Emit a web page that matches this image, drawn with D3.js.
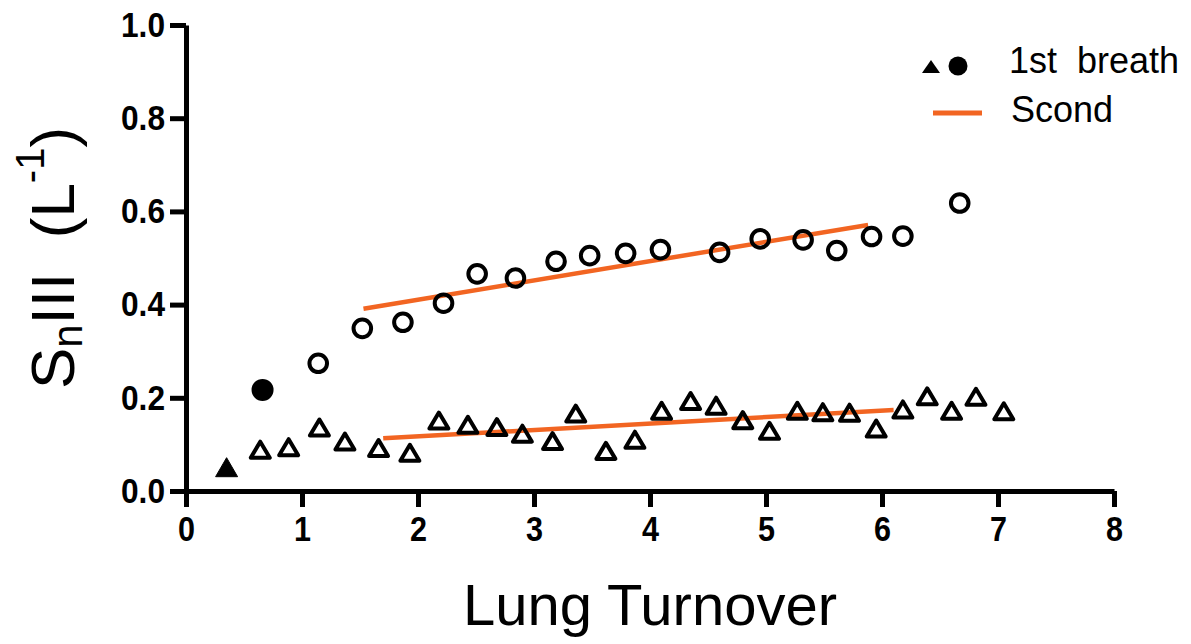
<!DOCTYPE html>
<html>
<head>
<meta charset="utf-8">
<script src="https://cdn.jsdelivr.net/npm/d3@7"></script>
<style>
  body { margin: 0; background: #fff; }
  text { font-family: Arial, "Liberation Sans", sans-serif; }
</style>
</head>
<body>
<script>
// data
const firstTri = [{ x: 0.35, y: 0.05 }];
const firstCirc = [{ x: 0.66, y: 0.217 }];

const circX = [1.14, 1.52, 1.87, 2.22, 2.51, 2.84, 3.19, 3.48, 3.79, 4.09, 4.60, 4.95, 5.32, 5.61, 5.91, 6.18, 6.67];
const circY = [0.274, 0.349, 0.362, 0.403, 0.466, 0.457, 0.493, 0.505, 0.510, 0.518, 0.512, 0.541, 0.539, 0.516, 0.546, 0.547, 0.618];

const triX = [0.64, 0.885, 1.15, 1.37, 1.66, 1.93, 2.18, 2.43, 2.68, 2.90, 3.16, 3.36, 3.62, 3.87, 4.10, 4.35, 4.57, 4.80, 5.03, 5.27, 5.49, 5.72, 5.95, 6.18, 6.39, 6.60, 6.81, 7.05];
const triY = [0.0875, 0.093, 0.135, 0.105, 0.091, 0.081, 0.150, 0.141, 0.136, 0.122, 0.106, 0.165, 0.085, 0.109, 0.171, 0.192, 0.182, 0.151, 0.128, 0.171, 0.168, 0.167, 0.133, 0.174, 0.202, 0.171, 0.201, 0.170];

// "Scond" fit lines
const fitCirc = [{ x: 1.53, y: 0.391 }, { x: 5.88, y: 0.571 }];
const fitTri = [{ x: 1.70, y: 0.113 }, { x: 6.10, y: 0.174 }];

const xTicks = [0, 1, 2, 3, 4, 5, 6, 7, 8];
const yTicks = [0, 0.2, 0.4, 0.6, 0.8, 1.0];

const width = 1191, height = 644;
const orange = '#f26522';

const svg = d3.select('body').append('svg')
    .attr('width', width)
    .attr('height', height);

const x = d3.scaleLinear().domain([0, 8]).range([186, 1114]);
const y = d3.scaleLinear().domain([0, 1]).range([491, 25]);

// axes
const xAxis = svg.append('g')
    .attr('transform', `translate(0, ${y(0)})`)
    .call(d3.axisBottom(x).tickValues(xTicks).tickFormat(d3.format('d'))
        .tickSize(16).tickSizeOuter(0).tickPadding(9));

const yAxis = svg.append('g')
    .attr('transform', `translate(${x(0)}, 0)`)
    .call(d3.axisLeft(y).tickValues(yTicks).tickFormat(d3.format('.1f'))
        .tickSize(16).tickSizeOuter(0).tickPadding(5));

[xAxis, yAxis].forEach(g => {
  g.select('.domain').attr('stroke', '#000').attr('stroke-width', 5);
  g.selectAll('.tick line').attr('stroke', '#000').attr('stroke-width', 5);
  g.selectAll('.tick text')
      .attr('fill', '#000')
      .style('font-size', '35px')
      .style('font-weight', 'bold')
      .attr('lengthAdjust', 'spacingAndGlyphs');
});
// the original labels are a little narrower than Arial bold
xAxis.selectAll('.tick text').attr('textLength', 17);
yAxis.selectAll('.tick text').attr('textLength', 44);

// fit lines
const line = d3.line().x(d => x(d.x)).y(d => y(d.y));
[fitCirc, fitTri].forEach(f => {
  svg.append('path')
      .attr('d', line(f))
      .attr('fill', 'none')
      .attr('stroke', orange)
      .attr('stroke-width', 4.5);
});

// triangle marker centred on its box
const triPath = 'M0,-8.5L9.5,7.5L-9.5,7.5Z';

svg.selectAll('.tri')
    .data(triX.map((v, i) => ({ x: v, y: triY[i] })))
    .enter().append('path')
    .attr('class', 'tri')
    .attr('d', triPath)
    .attr('transform', d => `translate(${x(d.x)}, ${y(d.y)})`)
    .attr('fill', 'none')
    .attr('stroke', '#000')
    .attr('stroke-width', 4)
    .attr('stroke-linejoin', 'round');

svg.selectAll('.circ')
    .data(circX.map((v, i) => ({ x: v, y: circY[i] })))
    .enter().append('circle')
    .attr('class', 'circ')
    .attr('cx', d => x(d.x))
    .attr('cy', d => y(d.y))
    .attr('r', 8.8)
    .attr('fill', 'none')
    .attr('stroke', '#000')
    .attr('stroke-width', 4);

svg.selectAll('.ftri')
    .data(firstTri)
    .enter().append('path')
    .attr('d', 'M0,-10L11,9L-11,9Z')
    .attr('transform', d => `translate(${x(d.x)}, ${y(d.y)})`)
    .attr('fill', '#000')
    .attr('stroke', '#000')
    .attr('stroke-linejoin', 'round');

svg.selectAll('.fcirc')
    .data(firstCirc)
    .enter().append('circle')
    .attr('cx', d => x(d.x))
    .attr('cy', d => y(d.y))
    .attr('r', 11)
    .attr('fill', '#000');

// axis titles
svg.append('text')
    .attr('x', 650)
    .attr('y', 625)
    .attr('text-anchor', 'middle')
    .style('font-size', '58px')
    .text('Lung Turnover');

const yt = svg.append('text')
    .attr('transform', 'translate(74, 258) rotate(-90)')
    .attr('text-anchor', 'middle')
    .style('font-size', '62px')
    .style('white-space', 'pre');
yt.append('tspan').text('S');
yt.append('tspan').attr('dy', 8).style('font-size', '42px').text('n');
yt.append('tspan').attr('dy', -8).text('III  (L');
yt.append('tspan').attr('dy', -30).style('font-size', '40px').text('-1');
yt.append('tspan').attr('dy', 30).text(')');

// legend
const legend = svg.append('g');
legend.append('path')
    .attr('d', 'M0,-7L9,6L-9,6Z')
    .attr('transform', 'translate(931, 67)')
    .attr('fill', '#000');
legend.append('circle')
    .attr('cx', 958).attr('cy', 66).attr('r', 9.5)
    .attr('fill', '#000');
legend.append('text')
    .attr('x', 1009).attr('y', 73)
    .style('font-size', '36px')
    .style('white-space', 'pre')
    .text('1st  breath');
legend.append('line')
    .attr('x1', 933).attr('x2', 982)
    .attr('y1', 113).attr('y2', 113)
    .attr('stroke', orange)
    .attr('stroke-width', 5);
legend.append('text')
    .attr('x', 1011).attr('y', 122)
    .style('font-size', '36px')
    .text('Scond');
</script>
</body>
</html>
